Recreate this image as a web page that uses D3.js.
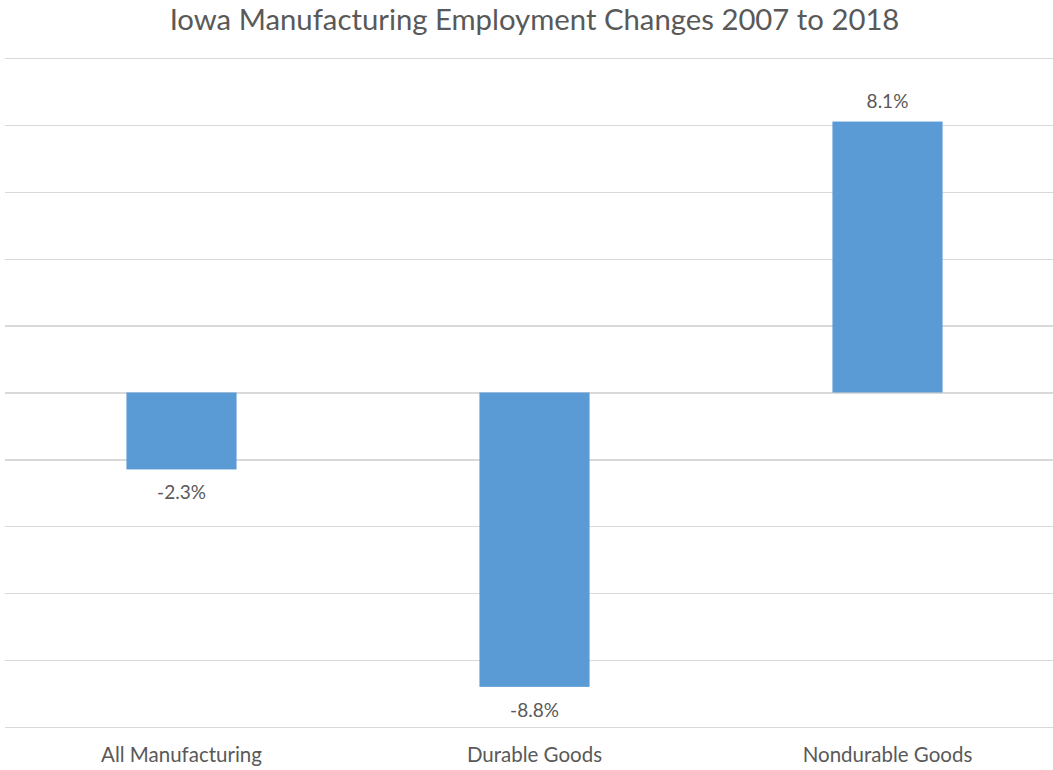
<!DOCTYPE html>
<html>
<head>
<meta charset="utf-8">
<script src="https://cdn.jsdelivr.net/npm/d3@7"></script>
<style>
  html, body { margin: 0; padding: 0; background: #fff; }
  svg { display: block; }
  text { font-family: Lato, "Open Sans", sans-serif; fill: #595959; }
</style>
</head>
<body>
<svg id="chart" width="1053" height="770"></svg>
<script>
// Employment change by sector, percent
const categories = ["All Manufacturing", "Durable Goods", "Nondurable Goods"];
const changes = [-2.3, -8.8, 8.1];
const valueLabels = ["-2.3%", "-8.8%", "8.1%"];
const gridTicks = [-10, -8, -6, -4, -2, 0, 2, 4, 6, 8, 10];
const titleText = "Iowa Manufacturing Employment Changes 2007 to 2018";

const svg = d3.select("#chart");

const x = d3.scaleBand()
  .domain(categories)
  .range([5, 1064])
  .paddingInner(0.688)
  .paddingOuter(0.344);

const y = d3.scaleLinear()
  .domain([-10, 10])
  .range([727, 58]);

// horizontal gridlines
const grid = svg.append("g")
  .attr("transform", "translate(5,0)")
  .call(d3.axisLeft(y).tickValues(gridTicks).tickSize(-1059).tickFormat(""));
grid.select(".domain").remove();
grid.selectAll(".tick line")
  .attr("stroke", "#d9d9d9")
  .attr("stroke-width", 1.3)
  .attr("shape-rendering", "crispEdges");

// bars
svg.append("g").selectAll("rect")
  .data(categories)
  .join("rect")
  .attr("x", d => x(d))
  .attr("width", x.bandwidth())
  .attr("y", (d, i) => y(Math.max(0, changes[i])))
  .attr("height", (d, i) => Math.abs(y(changes[i]) - y(0)))
  .attr("fill", "#5b9bd5");

// value labels
svg.append("g").selectAll("text")
  .data(categories)
  .join("text")
  .attr("x", d => x(d) + x.bandwidth() / 2)
  .attr("y", (d, i) => changes[i] >= 0 ? y(changes[i]) - 13.5 : y(changes[i]) + 30)
  .attr("text-anchor", "middle")
  .attr("font-size", 19)
  .text((d, i) => valueLabels[i]);

// category labels
svg.append("g").selectAll("text")
  .data(categories)
  .join("text")
  .attr("x", d => x(d) + x.bandwidth() / 2)
  .attr("y", 762)
  .attr("text-anchor", "middle")
  .attr("font-size", 20.5)
  .text(d => d);

// title
svg.append("text")
  .attr("x", 534.5)
  .attr("y", 30)
  .attr("text-anchor", "middle")
  .attr("font-size", 29.3)
  .text(titleText);
</script>
</body>
</html>
